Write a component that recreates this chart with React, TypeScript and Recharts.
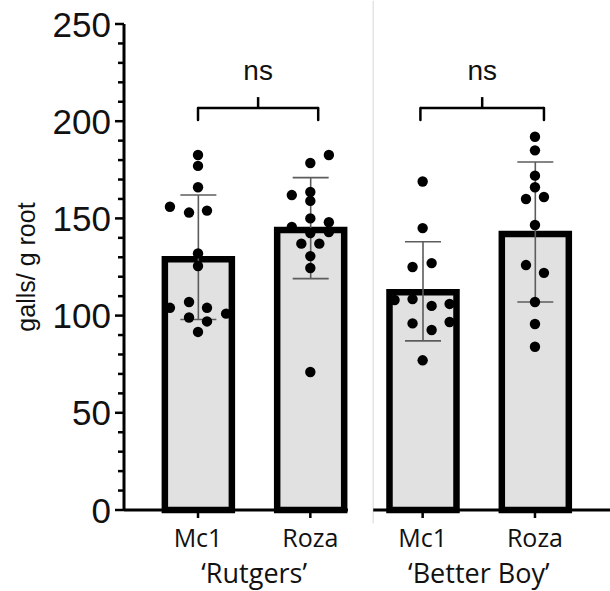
import {
  ComposedChart,
  Bar,
  ErrorBar,
  Scatter,
  XAxis,
  YAxis,
  ReferenceLine,
  Label
} from 'recharts'

// categories
const isolates = ['Mc1', 'Roza', 'Mc1', 'Roza']
const cultivars = ['‘Rutgers’', '‘Better Boy’']
const barPos = [1, 2, 3, 4]
const groupPos = [1.5, 3.5]

// bar means and error (SD)
const means = [129, 144, 112, 142]
const errLow = [31, 25, 25, 35]
const errHigh = [33, 27, 26, 37]

// individual plants, galls per g root
const rutgersMc1 = [182.6, 177, 166, 156, 153, 154, 132, 125.5, 104, 107, 104, 101, 99, 97, 91.6]
const rutgersRoza = [182.6, 178.5, 162, 163.6, 159, 150, 145.6, 148, 143, 142.5, 137, 137, 130.6, 124.5, 71]
const betterBoyMc1 = [169, 145, 125, 127, 108, 108.5, 105, 106, 96, 92.6, 96.7, 77]
const betterBoyRoza = [192, 185, 172, 166, 160, 161, 146.6, 126, 122, 107, 95.7, 84]

// horizontal scatter of the dots, in category units
const rutgersMc1Jitter = [0, 0, 0, -0.25, -0.08, 0.08, 0, 0, -0.25, -0.08, 0.08, 0.25, -0.08, 0.08, 0]
const rutgersRozaJitter = [0.165, 0, -0.165, 0, 0, 0, -0.165, 0.165, 0.165, 0, -0.08, 0.08, 0, 0, 0]
const betterBoyMc1Jitter = [0, 0, -0.09, 0.08, -0.25, -0.09, 0.08, 0.24, -0.09, 0.08, 0.24, 0]
const betterBoyRozaJitter = [0, 0, 0, 0, -0.08, 0.08, 0, -0.08, 0.08, 0, 0, 0]

const yTicks = [0, 10, 20, 30, 40, 50, 60, 70, 80, 90, 100, 110, 120, 130, 140, 150, 160, 170, 180, 190, 200, 210, 220, 230, 240, 250]

// "ns" brackets
const bracketSpans = [[1.0, 2.07], [2.98, 4.08]]
const bracketLevel = 206.8
const bracketFoot = 200.6
const bracketPeak = 212.4
const bracketText = 'ns'

const xDomain = [0.341, 4.668]
const panelEnd = 2.335
const panelStart = 2.56

const barData = barPos.map((x, i) => ({
  x,
  y: means[i],
  err: [errLow[i], errHigh[i]],
  name: isolates[i]
}))

const dotSets: [number[], number[]][] = [
  [rutgersMc1, rutgersMc1Jitter],
  [rutgersRoza, rutgersRozaJitter],
  [betterBoyMc1, betterBoyMc1Jitter],
  [betterBoyRoza, betterBoyRozaJitter]
]
const dots = dotSets.flatMap(([vals, jit], i) =>
  vals.map((y, j) => ({ x: barPos[i] + jit[j], y }))
)

const AXIS_FONT = '"Liberation Sans", Arial, sans-serif'
const CAT_FONT = '"Open Sans", sans-serif'

const YTick = ({ x, y, payload }: any) => {
  const major = payload.value % 50 === 0
  return (
    <g>
      <line x1={x - (major ? 9 : 6)} x2={x} y1={y} y2={y} stroke="#000" strokeWidth={2.5} />
      {major && (
        <text x={x - 13} y={y} dy="0.36em" textAnchor="end" fontSize={35} fontFamily={AXIS_FONT} fill="#111">
          {payload.value}
        </text>
      )}
    </g>
  )
}

const XTick = ({ x, y, payload, index }: any) => (
  <g>
    <line x1={x} x2={x} y1={y} y2={y + 8} stroke="#000" strokeWidth={2.5} />
    <text x={x} y={y + 37} textAnchor="middle" fontSize={25} fontFamily={CAT_FONT} fill="#111">
      {isolates[index] ?? payload.value}
    </text>
  </g>
)

// cultivar row, baseline near the bottom edge of the picture
const GroupTick = ({ x, index }: any) => (
  <text x={x} y={583} textAnchor="middle" fontSize={27} fontFamily={CAT_FONT} fill="#111">
    {cultivars[index]}
  </text>
)

const YLabel = ({ viewBox }: any) => {
  const cx = viewBox.x + 35
  const cy = viewBox.y + viewBox.height / 2
  return (
    <text
      x={cx}
      y={cy}
      transform={`rotate(-90, ${cx}, ${cy})`}
      textAnchor="middle"
      fontSize={25}
      fontFamily={AXIS_FONT}
      fill="#111"
    >
      galls/ g root
    </text>
  )
}

const Dot = ({ cx, cy }: any) => <circle cx={cx} cy={cy} r={5.2} fill="#000" />

export default function App() {
  return (
    <div style={{ position: 'absolute', left: 0, top: 0, background: '#fff' }}>
      <ComposedChart
        width={610}
        height={591}
        data={barData}
        margin={{ top: 24, right: 0, bottom: 0, left: 0 }}
      >
        <XAxis
          dataKey="x"
          type="number"
          domain={xDomain}
          ticks={barPos}
          interval={0}
          axisLine={false}
          tickLine={false}
          tickSize={0}
          tickMargin={0}
          height={42}
          tick={<XTick />}
        />
        <XAxis
          xAxisId="group"
          dataKey="x"
          type="number"
          domain={xDomain}
          allowDataOverflow
          ticks={groupPos}
          interval={0}
          axisLine={false}
          tickLine={false}
          tickSize={0}
          tickMargin={0}
          height={39}
          tick={<GroupTick />}
        />
        <XAxis
          xAxisId="dots"
          dataKey="x"
          type="number"
          domain={xDomain}
          allowDataOverflow
          hide
        />
        <YAxis
          dataKey="y"
          type="number"
          domain={[0, 250]}
          ticks={yTicks}
          interval={0}
          width={124}
          axisLine={{ stroke: '#000', strokeWidth: 3 }}
          tickLine={false}
          tickSize={0}
          tickMargin={0}
          tick={<YTick />}
          label={<Label content={<YLabel />} />}
        />

        {/* panel separator */}
        <ReferenceLine
          segment={[{ x: panelStart, y: -7 }, { x: panelStart, y: 262 }]}
          stroke="#e4e4e4"
          strokeWidth={1.5}
          ifOverflow="visible"
        />

        <Bar
          dataKey="y"
          barSize={67}
          fill="#e1e1e1"
          stroke="#000"
          strokeWidth={6.5}
          isAnimationActive={false}
        >
          <ErrorBar dataKey="err" direction="y" width={18} stroke="#5c5c5c" strokeWidth={1.6} />
        </Bar>

        {/* split x axis */}
        <ReferenceLine segment={[{ x: xDomain[0], y: 0 }, { x: panelEnd, y: 0 }]} stroke="#000" strokeWidth={3} ifOverflow="visible" />
        <ReferenceLine segment={[{ x: panelStart, y: 0 }, { x: xDomain[1], y: 0 }]} stroke="#000" strokeWidth={3} ifOverflow="visible" />

        <Scatter xAxisId="dots" data={dots} dataKey="y" shape={<Dot />} isAnimationActive={false} />

        {bracketSpans.map(([a, b], i) => {
          const mid = (a + b) / 2
          return [
            <ReferenceLine
              key={`h${i}`}
              segment={[{ x: a, y: bracketLevel }, { x: b, y: bracketLevel }]}
              stroke="#000"
              strokeWidth={2.5}
              label={{ value: bracketText, position: 'top', offset: 28, fontSize: 28, fontFamily: AXIS_FONT, fill: '#111' }}
            />,
            <ReferenceLine key={`l${i}`} segment={[{ x: a, y: bracketFoot }, { x: a, y: bracketLevel }]} stroke="#000" strokeWidth={2.5} strokeLinecap="round" />,
            <ReferenceLine key={`r${i}`} segment={[{ x: b, y: bracketFoot }, { x: b, y: bracketLevel }]} stroke="#000" strokeWidth={2.5} strokeLinecap="round" />,
            <ReferenceLine key={`m${i}`} segment={[{ x: mid, y: bracketLevel }, { x: mid, y: bracketPeak }]} stroke="#000" strokeWidth={2.5} />
          ]
        })}
      </ComposedChart>
    </div>
  )
}
